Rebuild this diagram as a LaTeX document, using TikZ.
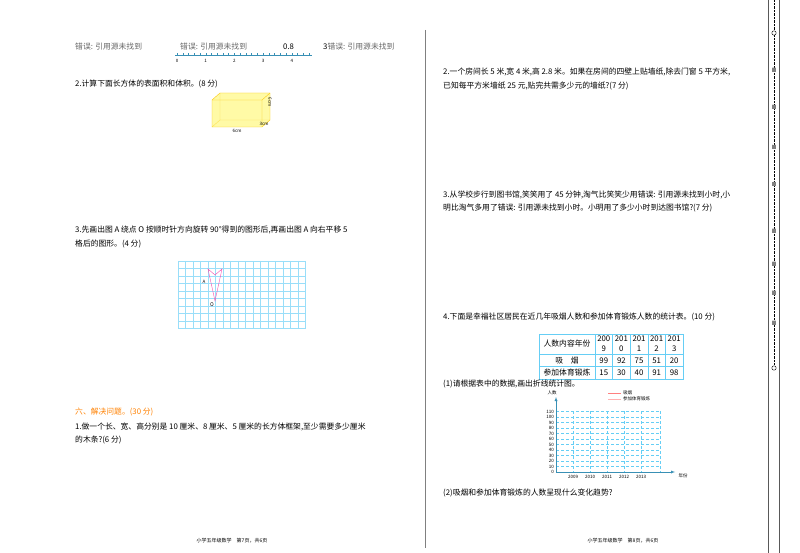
\documentclass[tikz,border=0pt]{standalone}
\usepackage{fontspec}
\setmainfont{Noto Sans CJK SC}
\begin{document}
\begin{tikzpicture}[x=1pt,y=-1pt,font=\fontsize{7.8}{9}\selectfont,
	txt/.style={anchor=west,inner sep=0},
	err/.style={anchor=west,inner sep=0,black!60},
	tiny/.style={font=\fontsize{4.5}{5}\selectfont,inner sep=0}]
	\useasboundingbox (0,0) rectangle (800,553);
	
	% binding strip
	\draw[gray!70!black](768,0)--(768,553);
	\draw[gray!70!black](779,0)--(779,553);
	\draw[densely dotted](774,0)--(774,365);
	\draw[fill=white](774,33) circle [radius=2.2];
	\draw[fill=white](774,368) circle [radius=2.2];
	\foreach \c/\y in {密/70,封/107,线/147,内/184,不/231,要/264,答/293,题/323}
	\node[tiny,fill=white,gray] at (774,\y){\c};
	\draw[gray](425,30)--(425,548);
	
	% left page
	\node[err] at (75,47){错误: 引用源未找到};
	\node[err] at (180,47){错误: 引用源未找到};
	\node[txt] at (283,47){0.8};
	\node[err] at (323,47){\textcolor{black}{3}错误: 引用源未找到};
	\draw[cyan!70!black](175,55)--(312,55);
	\foreach \i in {0,...,23} \draw[cyan!70!black](177+\i*5.74,55)--(177+\i*5.74,53);
	\foreach \i in {0,...,4} \node[tiny] at (177+\i*28.7,61){\i};
	
	\node[txt] at (75,84){2.计算下面长方体的表面积和体积。(8 分)};
	\draw[fill=yellow!35,draw=yellow!60!orange](212,100)--(220,93)--(270,93)--(270,120)--(262,127)--(212,127)--cycle;
	\draw[yellow!60!orange](212,100)--(262,100)--(270,93)(262,100)--(262,127);
	\draw[yellow!60!orange,opacity=0.5](220,93)--(220,120)--(270,120)(220,120)--(212,127);
	\node[tiny] at (237,131){6cm};
	\node[tiny] at (264,124){3cm};
	\node[tiny,rotate=-90] at (270,102){6cm};
	
	\node[txt] at (75,230){3.先画出图 A 绕点 O 按顺时针方向旋转 90°得到的图形后,再画出图 A 向右平移 5};
	\node[txt] at (75,244){格后的图形。(4 分)};
	\foreach \i in {0,...,17} \draw[cyan!40](178+\i*7.5,261)--(178+\i*7.5,328.5);
	\foreach \j in {0,...,9} \draw[cyan!40](178,261+\j*7.5)--(305.5,261+\j*7.5);
	\draw[magenta!70](208,269)--(215,275)--(222,269)--(215,301)--cycle;
	\node[tiny] at (204,282){A};
	\node[tiny,font=\fontsize{5}{5}\itshape] at (212,305){O};
	
	\node[txt,orange] at (75,412){六、解决问题。(30 分)};
	\node[txt] at (75,427){1.做一个长、宽、高分别是 10 厘米、8 厘米、5 厘米的长方体框架,至少需要多少厘米};
	\node[txt] at (75,440){的木条?(6 分)};
	\node[tiny,font=\fontsize{5}{6}\selectfont] at (232,541){小学五年级数学\quad 第7页，共6页};
	
	% right page
	\node[txt] at (443,72){2.一个房间长 5 米,宽 4 米,高 2.8 米。如果在房间的四壁上贴墙纸,除去门窗 5 平方米,};
	\node[txt] at (443,86){已知每平方米墙纸 25 元,贴完共需多少元的墙纸?(7 分)};
	\node[txt] at (443,195){3.从学校步行到图书馆,笑笑用了 45 分钟,淘气比笑笑少用错误: 引用源未找到小时,小};
	\node[txt] at (443,208){明比淘气多用了错误: 引用源未找到小时。小明用了多少小时到达图书馆?(7 分)};
	\node[txt] at (443,317){4.下面是幸福社区居民在近几年吸烟人数和参加体育锻炼人数的统计表。(10 分)};
	
	\draw[cyan!60](539,334) rectangle (683,379);
	\draw[cyan!60](539,354)--(683,354)(539,366.5)--(683,366.5);
	\foreach \x in {595,612.6,630.2,647.8,665.4} \draw[cyan!60](\x,334)--(\x,379);
	\node at (567,344){人数内容年份};
	\node at (567,360.5){吸\quad 烟};
	\node at (567,373){参加体育锻炼};
	\foreach \a/\b [count=\i from 0] in {0/9,1/0,1/1,1/2,1/3}{
		\node[inner sep=0] at (603.8+\i*17.6,339){20\a};
		\node[inner sep=0] at (603.8+\i*17.6,349){\b};}
	\foreach \s/\t [count=\i from 0] in {99/15,92/30,75/40,51/91,20/98}{
		\node at (603.8+\i*17.6,360.5){\s};
		\node at (603.8+\i*17.6,373){\t};}
	\node[txt] at (443,384){(1)请根据表中的数据,画出折线统计图。};
	
	\foreach \v in {1,...,11}
	\draw[cyan!60,densely dashed](556,472-\v*5.5)--(660,472-\v*5.5);
	\foreach \x in {573,590,607,624,641,660} \draw[cyan!60,densely dashed](\x,411)--(\x,472);
	\draw[cyan!70!black,-latex](556,472)--(556,397);
	\draw[cyan!70!black,-latex](556,472)--(675,472);
	\foreach \v in {0,...,11}{
		\pgfmathtruncatemacro{\n}{\v*10}
		\node[tiny,anchor=east] at (554,472-\v*5.5){\n};}
	\foreach \y [count=\i from 0] in {2009,2010,2011,2012,2013}
	\node[tiny] at (573+\i*17,477){\y};
	\node[tiny] at (552,393){人数};
	\node[tiny] at (683,476){年份};
	\draw[red!50](608,393)--(621,393);
	\draw[red!30](608,399)--(621,399);
	\node[tiny,anchor=west] at (623,393){吸烟};
	\node[tiny,anchor=west] at (623,399){参加体育锻炼};
	\node[txt] at (443,493){(2)吸烟和参加体育锻炼的人数呈现什么变化趋势?};
	\node[tiny,font=\fontsize{5}{6}\selectfont] at (623,541){小学五年级数学\quad 第8页，共6页};
\end{tikzpicture}
\end{document}
